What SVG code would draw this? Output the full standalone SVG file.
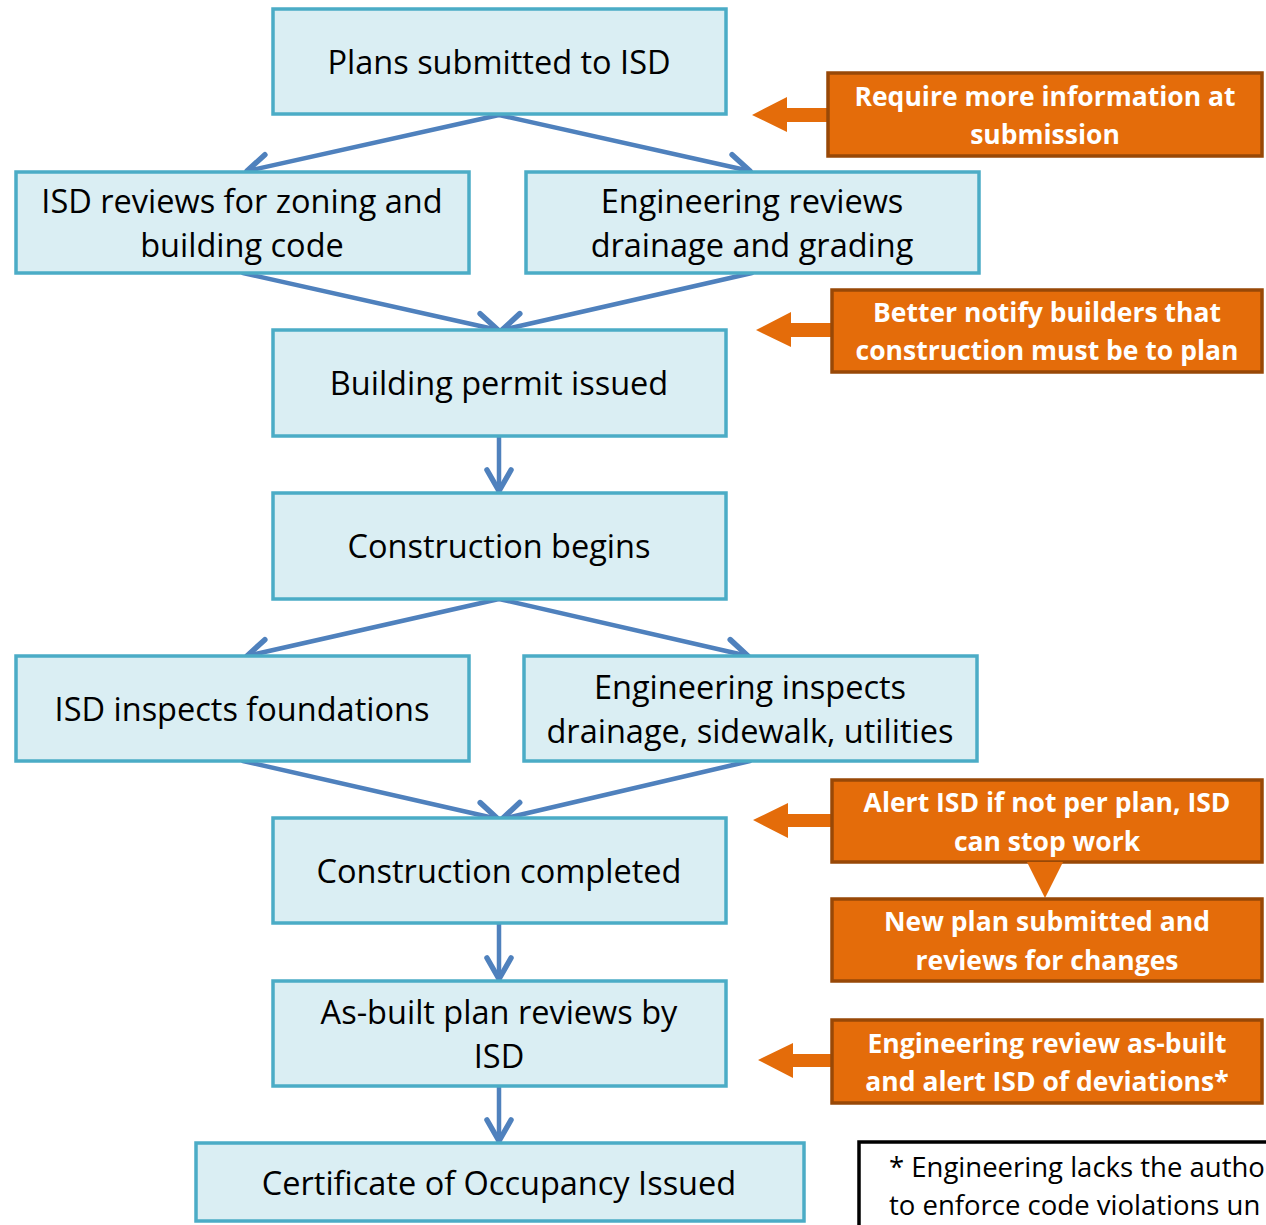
<svg xmlns="http://www.w3.org/2000/svg" width="1266" height="1225" viewBox="0 0 1266 1225">
  <style>
    .step rect { fill: #DAEEF3; stroke: #4BACC6; stroke-width: 3.5; }
    .step text { font-family: "Open Sans", "Liberation Sans", sans-serif; font-size: 32.5px; fill: #000; text-anchor: middle; }
    .note rect { fill: #E46C0A; stroke: #984807; stroke-width: 3.5; }
    .note text { font-family: "Open Sans", "Liberation Sans", sans-serif; font-size: 26.5px; font-weight: bold; fill: #fff; text-anchor: middle; }
    .pointer { fill: #E46C0A; }
    .flow line { stroke: #4F81BD; stroke-width: 4.5; stroke-linecap: round; marker-end: url(#chev); }
    .foot text { font-family: "Open Sans", "Liberation Sans", sans-serif; font-size: 27.5px; fill: #000; }
  </style>
  <defs>
    <marker id="chev" markerUnits="userSpaceOnUse" viewBox="-28 -18 32 36" markerWidth="32" markerHeight="36" refX="0" refY="0" orient="auto" overflow="visible">
      <path d="M -21 -12 L 0 0 L -21 12" fill="none" stroke="#4F81BD" stroke-width="5.5" stroke-linecap="round" stroke-linejoin="round"/>
    </marker>
  </defs>

  <rect width="1266" height="1225" fill="#fff"/>

  <!-- blue flow connectors -->
  <g id="connectors" class="flow">
    <line x1="499" y1="115" x2="247" y2="171"/>
    <line x1="499" y1="115" x2="750" y2="171"/>
    <line x1="243" y1="273" x2="498" y2="330"/>
    <line x1="752" y1="273" x2="502" y2="330"/>
    <line x1="499" y1="436" x2="499" y2="491"/>
    <line x1="499" y1="599" x2="247" y2="656"/>
    <line x1="499" y1="599" x2="748" y2="656"/>
    <line x1="243" y1="761" x2="498" y2="819"/>
    <line x1="750" y1="761" x2="502" y2="819"/>
    <line x1="499" y1="923" x2="499" y2="979"/>
    <line x1="499" y1="1086" x2="499" y2="1141"/>
  </g>

  <!-- main process steps -->
  <g id="plans-submitted" class="step">
    <rect x="273" y="9" width="453" height="105"/>
    <text x="499" y="74">Plans submitted to ISD</text>
  </g>
  <g id="isd-reviews" class="step">
    <rect x="16" y="172" width="453" height="101"/>
    <text x="242" y="213">ISD reviews for zoning and</text>
    <text x="242" y="257">building code</text>
  </g>
  <g id="eng-reviews" class="step">
    <rect x="526" y="172" width="453" height="101"/>
    <text x="752" y="213">Engineering reviews</text>
    <text x="752" y="257">drainage and grading</text>
  </g>
  <g id="permit-issued" class="step">
    <rect x="273" y="330" width="453" height="106"/>
    <text x="499" y="395">Building permit issued</text>
  </g>
  <g id="construction-begins" class="step">
    <rect x="273" y="493" width="453" height="106"/>
    <text x="499" y="558">Construction begins</text>
  </g>
  <g id="isd-inspects" class="step">
    <rect x="16" y="656" width="453" height="105"/>
    <text x="242" y="721">ISD inspects foundations</text>
  </g>
  <g id="eng-inspects" class="step">
    <rect x="524" y="656" width="453" height="105"/>
    <text x="750" y="699">Engineering inspects</text>
    <text x="750" y="743">drainage, sidewalk, utilities</text>
  </g>
  <g id="construction-completed" class="step">
    <rect x="273" y="818" width="453" height="105"/>
    <text x="499" y="883">Construction completed</text>
  </g>
  <g id="as-built-review" class="step">
    <rect x="273" y="981" width="453" height="105"/>
    <text x="499" y="1024">As-built plan reviews by</text>
    <text x="499" y="1068">ISD</text>
  </g>
  <g id="certificate" class="step">
    <rect x="196" y="1143" width="608" height="78"/>
    <text x="499" y="1195">Certificate of Occupancy Issued</text>
  </g>

  <!-- recommended improvements -->
  <g id="note-more-info" class="note">
    <path class="pointer" d="M 752 115 L 787 97 L 787 108 L 830 108 L 830 122 L 787 122 L 787 132 Z"/>
    <rect x="828" y="73" width="434" height="83"/>
    <text x="1045" y="106">Require more information at</text>
    <text x="1045" y="144">submission</text>
  </g>
  <g id="note-notify" class="note">
    <path class="pointer" d="M 756 330 L 791 312 L 791 323 L 834 323 L 834 337 L 791 337 L 791 347 Z"/>
    <rect x="832" y="290" width="430" height="82"/>
    <text x="1047" y="322">Better notify builders that</text>
    <text x="1047" y="360">construction must be to plan</text>
  </g>
  <g id="note-alert" class="note">
    <path class="pointer" d="M 753 820 L 788 803 L 788 814 L 834 814 L 834 827 L 788 827 L 788 838 Z"/>
    <rect x="832" y="780" width="430" height="82"/>
    <text x="1047" y="812">Alert ISD if not per plan, ISD</text>
    <text x="1047" y="851">can stop work</text>
  </g>
  <g id="note-new-plan" class="note">
    <path class="pointer" d="M 1027 862 L 1063 862 L 1045 898 Z"/>
    <rect x="832" y="899" width="430" height="82"/>
    <text x="1047" y="931">New plan submitted and</text>
    <text x="1047" y="970">reviews for changes</text>
  </g>
  <g id="note-as-built" class="note">
    <path class="pointer" d="M 758 1060 L 793 1043 L 793 1054 L 834 1054 L 834 1067 L 793 1067 L 793 1078 Z"/>
    <rect x="832" y="1020" width="430" height="83"/>
    <text x="1047" y="1053">Engineering review as-built</text>
    <text x="1047" y="1091">and alert ISD of deviations*</text>
  </g>

  <!-- footnote -->
  <g id="footnote" class="foot">
    <rect x="859" y="1142" width="420" height="100" fill="#fff" stroke="#000" stroke-width="3.5"/>
    <text x="889" y="1177">* Engineering lacks the autho</text>
    <text x="889" y="1215">to enforce code violations un</text>
  </g>
</svg>
